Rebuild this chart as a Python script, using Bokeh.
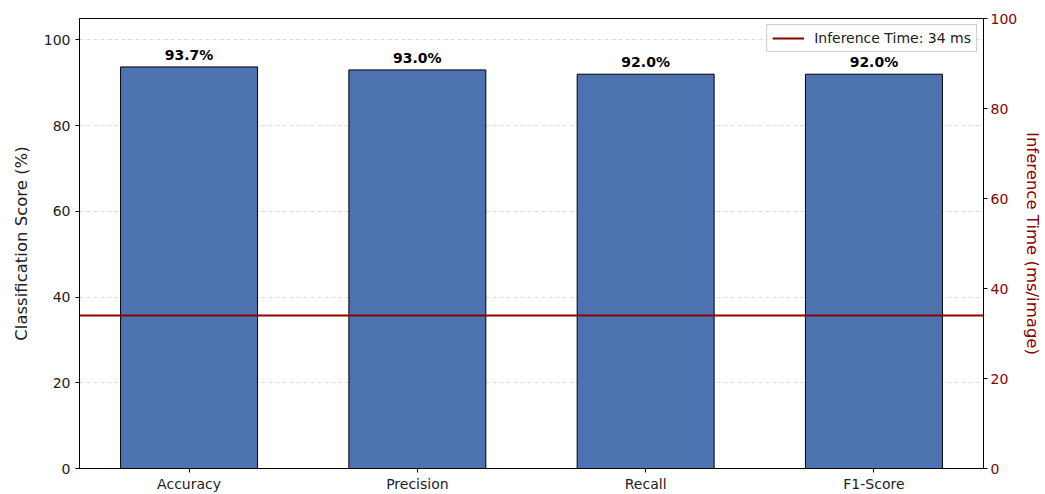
from bokeh.plotting import figure
from bokeh.models import Range1d, LinearAxis, FixedTicker, ColumnDataSource, Legend, LegendItem
from bokeh.core.properties import value
from bokeh.embed import file_html
from bokeh.resources import INLINE

metrics = ["Accuracy", "Precision", "Recall", "F1-Score"]
scores = [93.7, 93.0, 92.0, 92.0]
inference_ms = 34
left_ticks = [0, 20, 40, 60, 80, 100]
right_ticks = [0, 20, 40, 60, 80, 100]
right_title = "Inference Time (ms/image)"

FONT = "DejaVu Sans"
RED = "#8B0000"

xs = list(range(len(metrics)))
x_start, x_end = -0.48, len(metrics) - 1 + 0.48

p = figure(width=1045, height=494, output_backend="svg", toolbar_location=None,
           x_range=Range1d(x_start, x_end), y_range=Range1d(0, 105),
           min_border_left=79, min_border_right=58, min_border_top=18, min_border_bottom=26)
p.extra_y_ranges = {"time": Range1d(0, 100)}

p.outline_line_color = "black"
p.outline_line_alpha = 1
p.outline_line_width = 1
p.background_fill_color = "white"

src = ColumnDataSource(dict(x=xs, top=scores,
                            label=[f"{s:.1f}%" for s in scores],
                            ly=[s + 1.0 for s in scores]))

p.xgrid.visible = False
p.ygrid.ticker = FixedTicker(ticks=left_ticks)
p.ygrid.grid_line_color = "#b0b0b0"
p.ygrid.grid_line_alpha = 0.6
p.ygrid.grid_line_dash = "4 3"
p.ygrid.grid_line_width = 0.8

p.vbar(x="x", top="top", width=0.6, bottom=0, source=src,
       fill_color="#4C72B0", line_color="black", line_width=1)

p.text(x="x", y="ly", text="label", source=src, text_align="center", text_baseline="bottom",
       text_font=value(FONT), text_font_size="14px", text_font_style="bold", text_color="black")

line_r = p.line(x=[x_start, x_end], y=[inference_ms, inference_ms], y_range_name="time",
                line_color=RED, line_width=2.2)

# bottom axis
xa = p.xaxis[0]
xa.ticker = FixedTicker(ticks=xs)
xa.major_label_overrides = {i: m for i, m in enumerate(metrics)}
xa.minor_tick_line_color = None
xa.major_tick_out = 4
xa.major_tick_in = 0
xa.major_label_text_font = FONT
xa.major_label_text_font_size = "14px"
xa.major_label_text_color = "#222222"
xa.major_label_standoff = 3
xa.axis_line_color = "black"

# left axis
ya = p.yaxis[0]
ya.ticker = FixedTicker(ticks=left_ticks)
ya.minor_tick_line_color = None
ya.major_tick_out = 4
ya.major_tick_in = 0
ya.major_label_text_font = FONT
ya.major_label_text_font_size = "14px"
ya.major_label_text_color = "#222222"
ya.axis_label = "Classification Score (%)"
ya.axis_label_text_font = FONT
ya.axis_label_text_font_size = "16.5px"
ya.axis_label_text_font_style = "normal"
ya.axis_label_text_color = "#222222"
ya.axis_label_standoff = 10
ya.axis_line_color = "black"

# right axis
ra = LinearAxis(y_range_name="time", ticker=FixedTicker(ticks=right_ticks))
ra.minor_tick_line_color = None
ra.major_tick_out = 4
ra.major_tick_in = 0
ra.major_label_text_font = FONT
ra.major_label_text_font_size = "14px"
ra.major_label_text_color = RED
ra.major_label_standoff = 3
ra.axis_label = right_title
ra.axis_label_text_font = FONT
ra.axis_label_text_font_size = "16.5px"
ra.axis_label_text_font_style = "normal"
ra.axis_label_text_color = RED
ra.axis_label_standoff = 3
ra.axis_line_color = "black"
p.add_layout(ra, "right")

legend = Legend(items=[LegendItem(label=f"Inference Time: {inference_ms} ms", renderers=[line_r])],
                location="top_right")
legend.label_text_font = FONT
legend.label_text_font_size = "14px"
legend.label_text_color = "#222222"
legend.border_line_color = "#cccccc"
legend.border_line_alpha = 1
legend.background_fill_alpha = 0.85
legend.glyph_width = 32
legend.glyph_height = 14
legend.padding = 5
legend.spacing = 0
legend.margin = 6
legend.label_standoff = 10
p.add_layout(legend)

open("out.html", "w").write(file_html(p, INLINE))
